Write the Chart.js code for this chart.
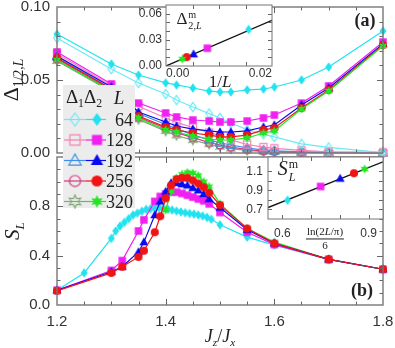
<!DOCTYPE html>
<html>
<head>
<meta charset="utf-8">
<script src="https://cdn.jsdelivr.net/npm/chart.js@4.4.1/dist/chart.umd.min.js"></script>
<style>
  body { margin: 0; background: #fff; }
  #fig { position: relative; width: 395px; height: 348px; overflow: hidden; background: #fff;
         font-family: "Liberation Serif", "DejaVu Serif", serif; color: #222; }
  #fig canvas { position: absolute; }
  .t { position: absolute; transform: translate(-50%, -50%); white-space: nowrap; line-height: 1; }
  .t sub { font-size: 0.62em; vertical-align: -0.35em; }
  .ss { display: inline-block; vertical-align: -0.5em; font-size: 0.6em; line-height: 1.05; text-align: left; margin-left: 1px; }
  .ss span { display: block; }
  .frac { display: inline-block; text-align: center; font-size: 11px; line-height: 1.1; }
  .frac .num { display: block; border-bottom: 1px solid #222; padding: 0 1px 1px; }
</style>
</head>
<body>
<div id="fig">
  <canvas id="panelA" style="left:0;top:-9px" width="395" height="178"></canvas>
  <canvas id="panelB" style="left:0;top:141px" width="402" height="207"></canvas>
  <canvas id="insetA" style="left:126px;top:-7px" width="151" height="89"></canvas>
  <canvas id="insetB" style="left:238px;top:144px" width="157" height="100"></canvas>
  <canvas id="legend" style="left:0;top:0" width="395" height="348"></canvas>
</div>
<script>
// ---- data ----
const sizes = [64, 128, 192, 256, 320];

// panel (a): gaps vs Jz/Jx
const jA = [1.2, 1.3, 1.35, 1.4, 1.42, 1.45, 1.48, 1.5, 1.52, 1.55, 1.58, 1.6, 1.65, 1.7, 1.8];
const d1_64  = [0.0815, 0.061, 0.0534, 0.048, 0.0466, 0.0445, 0.0424, 0.0418, 0.0418, 0.0432, 0.0438, 0.0452, 0.05, 0.0589, 0.0836];
const d1_128 = [0.0692, 0.0473, 0.0342, 0.0274, 0.0247, 0.0226, 0.0219, 0.0212, 0.0212, 0.0219, 0.024, 0.026, 0.0342, 0.0459, 0.076];
const d1_192 = [0.0664, 0.0452, 0.0281, 0.0212, 0.0185, 0.0164, 0.0151, 0.0144, 0.0144, 0.0151, 0.0178, 0.0192, 0.0329, 0.0445, 0.0747];
const d1_256 = [0.0651, 0.0438, 0.0253, 0.0178, 0.0158, 0.0137, 0.0123, 0.011, 0.011, 0.0123, 0.0158, 0.0171, 0.0308, 0.0432, 0.074];
const d1_320 = [0.0637, 0.0425, 0.024, 0.0158, 0.0144, 0.0116, 0.0096, 0.0089, 0.0089, 0.0103, 0.0137, 0.0151, 0.0301, 0.0425, 0.0733];
const d2_64  = [0.0788, 0.0575, 0.048, 0.0404, 0.0363, 0.0315, 0.027, 0.024, 0.0205, 0.016, 0.0128, 0.011, 0.0062, 0.0038, 0.0003];
const d2_128 = [0.068, 0.046, 0.032, 0.024, 0.021, 0.0175, 0.014, 0.012, 0.009, 0.0058, 0.004, 0.0032, 0.0018, 0.0008, 0.0004];
const d2_192 = [0.066, 0.044, 0.027, 0.0195, 0.0165, 0.0125, 0.009, 0.007, 0.0055, 0.0035, 0.002, 0.0015, 0.0008, 0.0004, 0.0002];
const d2_256 = [0.0645, 0.043, 0.0245, 0.017, 0.014, 0.0105, 0.0072, 0.0055, 0.004, 0.0024, 0.0013, 0.001, 0.0005, 0.0003, 0.0001];
const d2_320 = [0.063, 0.042, 0.023, 0.015, 0.012, 0.0088, 0.006, 0.0043, 0.003, 0.0018, 0.001, 0.0007, 0.0004, 0.0002, 0.0001];

// panel (b): entropy S_L vs Jz/Jx
const jB64 = [1.2, 1.25, 1.3, 1.308, 1.316, 1.324, 1.332, 1.34, 1.348, 1.356, 1.364, 1.372, 1.38, 1.388, 1.396, 1.404,
              1.412, 1.42, 1.428, 1.436, 1.444, 1.452, 1.46, 1.468, 1.476, 1.484, 1.5, 1.55, 1.6, 1.7, 1.8];
const s64  = [0.12, 0.26, 0.54, 0.6, 0.64, 0.67, 0.7, 0.73, 0.745, 0.76, 0.775, 0.78, 0.785, 0.787, 0.783, 0.778,
              0.77, 0.762, 0.755, 0.748, 0.742, 0.737, 0.73, 0.722, 0.71, 0.695, 0.65, 0.55, 0.485, 0.37, 0.29];
const jB = [1.2, 1.3, 1.32, 1.35, 1.36, 1.38, 1.39, 1.4, 1.41, 1.42, 1.43, 1.44, 1.45, 1.46, 1.47, 1.48, 1.5, 1.55, 1.6, 1.7, 1.8];
const s128 = [0.12, 0.28, 0.36, 0.6, 0.69, 0.84, 0.88, 0.9, 0.915, 0.915, 0.905, 0.89, 0.875, 0.86, 0.845, 0.82, 0.75, 0.59, 0.49, 0.37, 0.29];
const s192 = [0.12, 0.27, 0.31, 0.43, 0.51, 0.73, 0.84, 0.92, 0.99, 0.99, 0.98, 0.97, 0.95, 0.93, 0.9, 0.86, 0.79, 0.61, 0.5, 0.37, 0.29];
const s256 = [0.115, 0.26, 0.31, 0.39, 0.44, 0.59, 0.72, 0.865, 0.97, 1.02, 1.03, 1.03, 1.01, 0.985, 0.955, 0.91, 0.81, 0.62, 0.5, 0.37, 0.29];
const jB320 = [1.4, 1.41, 1.42, 1.43, 1.44, 1.45, 1.46, 1.47, 1.48, 1.5, 1.55, 1.6, 1.7, 1.8];
const s320  = [0.77, 0.92, 1.03, 1.06, 1.075, 1.07, 1.05, 1.0, 0.96, 0.82, 0.62, 0.51, 0.37, 0.29];

// insets
const invL = [0.0156, 0.0078, 0.0052, 0.0039, 0.0031];
const gapMin = [0.0419, 0.0204, 0.0136, 0.0102, 0.008];
const fitAx = [0, 0.02];
const fitAy = [0, 0.0525];
const lnL = [0.618, 0.733, 0.801, 0.849, 0.886];
const sMax = [0.797, 0.941, 1.024, 1.08, 1.124];
const fitBx = [0.55, 0.95];
const fitBy = [0.72, 1.2];
const insetBxTicks = [0.6, 0.7, 0.8, 0.9];

// ---- styles ----
const shapes = ['diamond', 'square', 'triangle', 'circle', 'star'];
const fillCol = ['#22e2ef', '#f020f0', '#0a0af0', '#f01414', '#22e622'];
const openCol = ['#6ee9f3', '#f77fb5', '#3d8fe8', '#d4387a', '#80a878'];

Chart.defaults.font.family = '"Liberation Sans", Arial, sans-serif';
Chart.defaults.color = '#333';

// marker pictures, used by the charts and by the legend
function marker(shape, r, color, open) {
  const s = Math.ceil(2 * r + 4);
  const c = document.createElement('canvas');
  c.width = s; c.height = s;
  const g = c.getContext('2d');
  g.translate(s / 2, s / 2);
  g.beginPath();
  if (shape === 'diamond') {
    g.moveTo(0, -r); g.lineTo(r * 0.72, 0); g.lineTo(0, r); g.lineTo(-r * 0.72, 0); g.closePath();
  } else if (shape === 'square') {
    g.rect(-r * 0.78, -r * 0.78, r * 1.56, r * 1.56);
  } else if (shape === 'triangle') {
    g.moveTo(0, -r); g.lineTo(r * 0.95, r * 0.7); g.lineTo(-r * 0.95, r * 0.7); g.closePath();
  } else if (shape === 'circle') {
    g.arc(0, 0, r * 0.85, 0, Math.PI * 2);
  } else {
    for (let i = 0; i < 12; i++) {
      const a = -Math.PI / 2 + i * Math.PI / 6, rr = i % 2 ? r * 0.5 : r;
      g.lineTo(rr * Math.cos(a), rr * Math.sin(a));
    }
    g.closePath();
  }
  if (open) { g.lineWidth = 1.2; g.strokeStyle = color; g.stroke(); }
  else { g.fillStyle = color; g.fill(); }
  return c;
}

const mkFill = shapes.map((s, i) => marker(s, 4.8, fillCol[i], false));
const mkOpen = shapes.map((s, i) => marker(s, 4.6, openCol[i], true));

function isStep(v, s) { const q = v / s; return Math.abs(q - Math.round(q)) < 1e-6; }
function pts(xs, ys) { return xs.map((x, i) => ({ x: x, y: ys[i] })); }
function curve(xs, ys, color, mk) {
  return { data: pts(xs, ys), borderColor: color, backgroundColor: color, borderWidth: 1.2,
           pointStyle: mk, pointRadius: 4, showLine: true, clip: false };
}

// inward ticks on all four sides plus the frame
const inTicks = {
  id: 'inTicks',
  beforeDatasetsDraw(chart, args, o) {
    if (!o.white) return;
    const a = chart.chartArea, ctx = chart.ctx;
    ctx.save(); ctx.fillStyle = '#fff';
    ctx.fillRect(a.left, a.top, a.right - a.left, a.bottom - a.top);
    ctx.restore();
  },
  afterDraw(chart, args, o) {
    const { ctx, chartArea: a } = chart;
    const sx = chart.scales.x, sy = chart.scales.y;
    ctx.save();
    ctx.strokeStyle = '#666';
    ctx.lineWidth = 1;
    ctx.beginPath();
    sx.ticks.forEach(t => {
      const p = Math.round(sx.getPixelForValue(t.value)) + 0.5;
      if (p < a.left + 1.5 || p > a.right - 1.5) return;
      const len = isStep(t.value, o.xMajor) ? o.major : o.minor;
      ctx.moveTo(p, a.bottom); ctx.lineTo(p, a.bottom - len);
      ctx.moveTo(p, a.top); ctx.lineTo(p, a.top + len);
    });
    sy.ticks.forEach(t => {
      const p = Math.round(sy.getPixelForValue(t.value)) + 0.5;
      if (p < a.top + 1.5 || p > a.bottom - 1.5) return;
      const len = isStep(t.value, o.yMajor) ? o.major : o.minor;
      ctx.moveTo(a.left, p); ctx.lineTo(a.left + len, p);
      ctx.moveTo(a.right, p); ctx.lineTo(a.right - len, p);
    });
    ctx.stroke();
    ctx.strokeStyle = '#777';
    ctx.lineWidth = o.border;
    ctx.strokeRect(a.left, a.top, a.right - a.left, a.bottom - a.top);
    ctx.restore();
  }
};

function axis(min, max, step, labelFn, size, pad, fit, more, fixedTicks) {
  const ax = {
    type: 'linear', min: min, max: max,
    grid: { display: false, drawTicks: false },
    border: { display: false },
    ticks: { stepSize: step, autoSkip: false, maxRotation: 0, callback: labelFn,
             font: { size: size }, padding: pad, color: '#333' },
    afterFit: fit
  };
  if (more) Object.assign(ax.ticks, more);
  if (fixedTicks) ax.afterBuildTicks = s => { s.ticks = fixedTicks.map(v => ({ value: v })); };
  return ax;
}

function baseOpts(x, y, pad, tickOpts) {
  return {
    responsive: false, animation: false, devicePixelRatio: 1,
    layout: { padding: pad },
    plugins: { legend: { display: false }, tooltip: { enabled: false }, inTicks: tickOpts },
    scales: { x: x, y: y }
  };
}

const xLab = v => isStep(v, 0.2) ? v.toFixed(1) : '';

// ---- panel (a) ----
const setsA = [];
[4, 3, 2, 1, 0].forEach(i => {
  const d1 = [d1_64, d1_128, d1_192, d1_256, d1_320][i];
  setsA.push(curve(jA, d1, fillCol[i], mkFill[i]));
});
[0, 1, 2, 3, 4].forEach(i => {
  const d2 = [d2_64, d2_128, d2_192, d2_256, d2_320][i];
  setsA.push(curve(jA, d2, openCol[i], mkOpen[i]));
});
new Chart(document.getElementById('panelA'), {
  type: 'line',
  data: { datasets: setsA },
  options: baseOpts(
    axis(1.2, 1.8, 0.05, xLab, 15, 8, s => { s.height = 16; }, { display: false }),
    axis(0, 0.1, 0.01, v => isStep(v, 0.05) ? v.toFixed(2) : '', 15, 7, s => { s.width = 57; }),
    { top: 16, right: 12 },
    { xMajor: 0.2, yMajor: 0.05, major: 6, minor: 3.5, border: 1.4 }
  ),
  plugins: [inTicks]
});

// ---- panel (b) ----
new Chart(document.getElementById('panelB'), {
  type: 'line',
  data: { datasets: [
    curve(jB, s256, fillCol[3], mkFill[3]),
    curve(jB, s192, fillCol[2], mkFill[2]),
    curve(jB320, s320, fillCol[4], mkFill[4]),
    curve(jB, s128, fillCol[1], mkFill[1]),
    curve(jB64, s64, fillCol[0], mkFill[0])
  ] },
  options: baseOpts(
    axis(1.2, 1.8, 0.05, xLab, 15, 8, s => { s.height = 43; }),
    axis(0, 1.2, 0.1, v => (isStep(v, 0.4) && v < 1.1) ? v.toFixed(1) : '', 15, 7, s => { s.width = 57; }),
    { top: 16, right: 19 },
    { xMajor: 0.2, yMajor: 0.4, major: 6, minor: 3.5, border: 1.4 }
  ),
  plugins: [inTicks]
});

// ---- inset (a) ----
const setsIA = [4, 3, 2, 1, 0].map(i => ({
  data: [{ x: invL[i], y: gapMin[i] }], pointStyle: mkFill[i], pointRadius: 4, showLine: false, clip: false
}));
setsIA.push({ data: pts(fitAx, fitAy), borderColor: '#111', borderWidth: 1.3, pointRadius: 0, showLine: true });
new Chart(document.getElementById('insetA'), {
  type: 'line',
  data: { datasets: setsIA },
  options: baseOpts(
    axis(0, 0.02, 0.005, v => isStep(v, 0.02) ? v.toFixed(2) : '', 12, 0, s => { s.height = 16; }, { align: 'inner' }),
    axis(0, 0.07, 0.01, v => isStep(v, 0.03) && v < 0.065 ? v.toFixed(2) : '', 12, 4, s => { s.width = 40; }),
    { top: 12, right: 2 },
    { xMajor: 0.01, yMajor: 0.03, major: 4, minor: 4, border: 1, white: true }
  ),
  plugins: [inTicks]
});

// ---- inset (b) ----
const setsIB = [4, 3, 2, 1, 0].map(i => ({
  data: [{ x: lnL[i], y: sMax[i] }], pointStyle: mkFill[i], pointRadius: 4, showLine: false, clip: false
}));
setsIB.push({ data: pts(fitBx, fitBy), borderColor: '#111', borderWidth: 1.3, pointRadius: 0, showLine: true });
new Chart(document.getElementById('insetB'), {
  type: 'line',
  data: { datasets: setsIB },
  options: baseOpts(
    axis(0.55, 0.95, 0.1, v => isStep(v, 0.3) ? v.toFixed(1) : '', 12, 7, s => { s.height = 25; }, null, insetBxTicks),
    axis(0.6, 1.25, 0.1, v => (v < 1.15 && Math.round(v * 10) % 2 === 1) ? v.toFixed(1) : '', 12, 5, s => { s.width = 30; }),
    { top: 13, right: 12 },
    { xMajor: 0.3, yMajor: 0.2, major: 4, minor: 4, border: 1, white: true }
  ),
  plugins: [inTicks]
});

// ---- legend box ----
const lg = document.getElementById('legend').getContext('2d');
lg.fillStyle = '#ececec';
lg.fillRect(63, 85, 72, 123);
const bigFill = shapes.map((s, i) => marker(s, 6.5, fillCol[i], false));
const bigOpen = shapes.map((s, i) => marker(s, 6.5, openCol[i], true));
sizes.forEach((n, i) => {
  const y = 119.5 + i * 20.5;
  lg.lineWidth = 1.2;
  lg.strokeStyle = openCol[i];
  lg.beginPath(); lg.moveTo(64, y); lg.lineTo(86, y); lg.stroke();
  lg.strokeStyle = fillCol[i];
  lg.beginPath(); lg.moveTo(86, y); lg.lineTo(106, y); lg.stroke();
  lg.drawImage(bigOpen[i], 75 - bigOpen[i].width / 2, y - bigOpen[i].height / 2);
  lg.drawImage(bigFill[i], 97 - bigFill[i].width / 2, y - bigFill[i].height / 2);
});

// ---- text ----
const fig = document.getElementById('fig');
function put(html, x, y, css) {
  const d = document.createElement('div');
  d.className = 't';
  d.innerHTML = html;
  d.style.left = x + 'px';
  d.style.top = y + 'px';
  if (css) d.style.cssText += css;
  fig.appendChild(d);
}
put('Δ<sub>1/2,<i>L</i></sub>', 13, 80, 'font-size:22px;transform:translate(-50%,-50%) rotate(-90deg);');
put('<i>S<sub>L</sub></i>', 14, 231, 'font-size:21px;transform:translate(-50%,-50%) rotate(-90deg);');
put('<i>J<sub>z</sub></i>/<i>J<sub>x</sub></i>', 220, 338, 'font-size:18px;');
put('<b>(a)</b>', 365, 20, 'font-size:18px;');
put('<b>(b)</b>', 362, 290, 'font-size:18px;');
put('Δ<span class="ss"><span>m</span><span>2,<i>L</i></span></span>', 189, 21, 'font-size:17px;');
put('1/<i>L</i>', 220, 81, 'font-size:17px;');
put('<i>S</i><span class="ss"><span>m</span><span><i>L</i></span></span>', 288, 171, 'font-size:20px;');
put('<span class="frac"><span class="num">ln(2<i>L</i>/π)</span><span>6</span></span>', 325, 239, '');
put('Δ<sub>1</sub>Δ<sub>2</sub>', 84, 98, 'font-size:19px;');
put('<i>L</i>', 119, 97, 'font-size:19px;');
sizes.forEach((n, i) => {
  put(String(n), 133, 119.5 + i * 20.5, 'font-size:18px;transform:translate(-100%,-50%);');
});
</script>
</body>
</html>
